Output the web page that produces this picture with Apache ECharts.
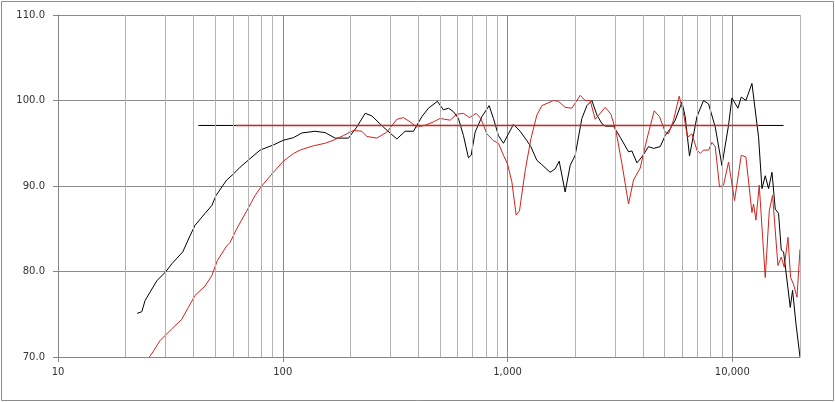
<!DOCTYPE html>
<html>
<head>
<meta charset="utf-8">
<script src="https://cdn.jsdelivr.net/npm/echarts@6/dist/echarts.min.js"></script>
<style>
  html, body { margin: 0; padding: 0; background: #fff; }
  #chart { width: 835px; height: 402px; }
</style>
</head>
<body>
<div id="chart"></div>
<script>
// 频率 (Hz)
var blackFreq = [22.5, 23.6, 24.4, 27.5, 30.2, 32.1, 35.9, 38.7, 40.7, 45.1, 48.3, 50.5, 56.3, 60.3, 64.6, 71.5, 79.3, 90.8,
    100.6, 111.5, 121.5, 139.3, 154.3, 171, 196, 213.5, 232.5, 249, 280, 321.7, 350.3, 381.4, 415.6, 444.6, 487.5,
    518.6, 545.8, 574.4, 604.6, 636.4, 669.9, 688.7, 717.5, 768.5, 827.9, 865.3, 910.9, 958.8,
    1009, 1062, 1138, 1219, 1270, 1350, 1421, 1547, 1628, 1697, 1804, 1899, 1999, 2141, 2254, 2373, 2497, 2628, 2719,
    2961, 3171, 3453, 3574, 3763, 3960, 4238, 4461, 4776, 5028, 5292, 5570, 5967, 6171, 6449, 6958, 7444, 7839, 8394,
    8989, 9618, 9960, 10590, 10956, 11493, 12223, 13083, 13548, 14012, 14495, 15009, 15524, 16056, 16507, 16902,
    18100, 18535, 19190, 20000];
// 黑线 dB
var blackDb = [75.1, 75.3, 76.6, 78.9, 80.0, 80.9, 82.3, 84.2, 85.4, 86.8, 87.7, 88.9, 90.7, 91.4, 92.2, 93.2, 94.2, 94.8,
    95.35, 95.65, 96.2, 96.4, 96.25, 95.6, 95.6, 96.9, 98.5, 98.2, 96.9, 95.5, 96.4, 96.4, 98.1, 99.1, 99.9,
    98.9, 99.1, 98.7, 97.9, 95.9, 93.3, 93.6, 96.3, 98.1, 99.4, 97.9, 95.9, 95.0,
    96.1, 97.2, 96.4, 95.3, 94.6, 93.0, 92.5, 91.6, 92.0, 92.9, 89.3, 92.4, 93.6, 97.9, 99.4, 100.0, 98.3, 97.3, 97.0,
    97.0, 95.7, 94.0, 94.1, 92.7, 93.4, 94.6, 94.4, 94.6, 95.9, 96.7, 97.7, 99.8, 98.1, 93.5, 98.1, 100.0, 99.6, 96.9,
    92.4, 97.1, 100.3, 99.1, 100.4, 100.0, 102.0, 95.7, 89.7, 91.2, 89.7, 91.6, 87.3, 86.8, 82.5, 82.3,
    75.8, 77.8, 73.9, 70.0];

var redFreq = [25.5, 26.6, 28.4, 32.1, 35.5, 38.0, 40.7, 45.1, 48.3, 51.2, 56.3, 58.3, 62.4, 69.2, 75.3, 80.6, 90.8,
    100.6, 111.5, 119.4, 136.8, 154.3, 168, 186.1, 206.2, 224.7, 236.5, 262, 290.3, 321.7, 344.2, 368.6, 394.8,
    429.8, 468, 501.2, 555.3, 594.7, 636.4, 676.8, 725, 760.6, 808.9, 865.3, 910.9, 958.8,
    999, 1045, 1092, 1130, 1198, 1270, 1350, 1421, 1601, 1684, 1804, 1932, 2104, 2215, 2331, 2454, 2719, 2883,
    3043, 3227, 3453, 3634, 3892, 4169, 4493, 4744, 5028, 5201, 5474, 5802, 6064, 6317, 6609, 6958, 7197, 7444,
    7839, 8116, 8394, 8770, 9138, 9618, 10228, 10956, 11493, 12223, 12427, 12735, 13174, 14012, 14599, 15100,
    15952, 16507, 17020, 17680, 18160, 18720, 19390, 20000];
// 红线 dB
var redDb = [70.0, 70.7, 71.9, 73.3, 74.4, 75.8, 77.2, 78.3, 79.5, 81.3, 83.0, 83.4, 85.0, 87.1, 88.9, 90.0, 91.6,
    92.9, 93.8, 94.2, 94.7, 95.0, 95.35, 95.9, 96.5, 96.4, 95.8, 95.6, 96.3, 97.8, 98.0, 97.5, 96.9,
    97.1, 97.5, 97.9, 97.7, 98.4, 98.5, 98.0, 98.5, 97.9, 96.1, 95.3, 95.0, 93.6,
    92.6, 90.5, 86.6, 87.1, 91.8, 95.5, 98.3, 99.4, 100.0, 99.9, 99.2, 99.1, 100.6, 100.0, 100.0, 97.8, 99.2, 98.4,
    96.3, 92.6, 87.9, 90.7, 92.1, 95.5, 98.8, 98.1, 96.3, 96.1, 97.7, 100.5, 98.5, 95.7, 96.1, 94.2, 93.8, 94.2,
    94.2, 95.1, 94.6, 89.9, 90.1, 92.8, 88.3, 93.6, 93.4, 86.9, 87.9, 86.0, 90.1, 79.3, 87.1, 88.9,
    80.7, 81.7, 80.5, 84.0, 79.3, 78.5, 77.0, 82.6];

// 平均线
var blackAvgFreq = [42.1, 16900];
var redAvgFreq = [62, 13100];
var avgLevel = 97.08;

var minorFreq = [20, 30, 40, 50, 60, 70, 80, 90, 200, 300, 400, 500, 600, 700, 800, 900,
    2000, 3000, 4000, 5000, 6000, 7000, 8000, 9000, 20000];
var decadeFreq = [10, 100, 1000, 10000];

function pairs(xs, ys) {
    return xs.map(function (x, i) { return [x, ys[i]]; });
}

var chart = echarts.init(document.getElementById('chart'));
var option = {
    animation: false,
    backgroundColor: '#fff',
    graphic: [{
        type: 'rect',
        shape: { x: 1.5, y: 1.5, width: 832, height: 399 },
        style: { fill: 'none', stroke: '#8c8c8c', lineWidth: 1 },
        silent: true
    }],
    grid: {
        left: 58,
        right: 35,
        top: 15,
        bottom: 45
    },
    xAxis: {
        type: 'log',
        logBase: 10,
        min: 10,
        max: 20000,
        axisLine: { show: true, lineStyle: { color: '#868686' } },
        axisTick: { show: true, length: 5, lineStyle: { color: '#868686' } },
        axisLabel: {
            color: '#333',
            fontFamily: 'DejaVu Sans',
            fontSize: 10,
            margin: 10,
            showMaxLabel: false,
            formatter: function (v) {
                if (decadeFreq.indexOf(Math.round(v)) < 0) return '';
                return Math.round(v).toLocaleString('en-US');
            }
        },
        splitLine: { show: true, lineStyle: { color: '#8c8c8c', width: 1 } }
    },
    yAxis: {
        type: 'value',
        min: 70,
        max: 110,
        interval: 10,
        axisLine: { show: true, lineStyle: { color: '#868686' } },
        axisTick: { show: true, length: 5, lineStyle: { color: '#868686' } },
        axisLabel: {
            color: '#333',
            fontFamily: 'DejaVu Sans',
            fontSize: 10,
            margin: 13,
            formatter: function (v) { return v.toFixed(1); }
        },
        splitLine: { lineStyle: { color: '#8c8c8c', width: 1 } }
    },
    series: [{
        name: 'minor',
        type: 'line',
        data: [],
        silent: true,
        markLine: {
            silent: true,
            symbol: 'none',
            label: { show: false },
            lineStyle: { color: '#b4b4b4', type: 'solid', width: 1 },
            data: minorFreq.map(function (f) { return { xAxis: f }; })
        }
    }, {
        name: 'black',
        type: 'line',
        data: pairs(blackFreq, blackDb),
        showSymbol: false,
        lineStyle: { color: '#000', width: 1 },
        itemStyle: { color: '#000' }
    }, {
        name: 'red',
        type: 'line',
        data: pairs(redFreq, redDb),
        showSymbol: false,
        lineStyle: { color: '#d2231e', width: 1 },
        itemStyle: { color: '#d2231e' }
    }, {
        name: 'blackAvg',
        type: 'line',
        z: 1,
        data: pairs(blackAvgFreq, [avgLevel, avgLevel]),
        showSymbol: false,
        lineStyle: { color: '#000', width: 1 }
    }, {
        name: 'redAvg',
        type: 'line',
        z: 5,
        data: pairs(redAvgFreq, [avgLevel, avgLevel]),
        showSymbol: false,
        lineStyle: { color: '#cc2a1e', width: 1.4 }
    }]
};
chart.setOption(option);
</script>
</body>
</html>
